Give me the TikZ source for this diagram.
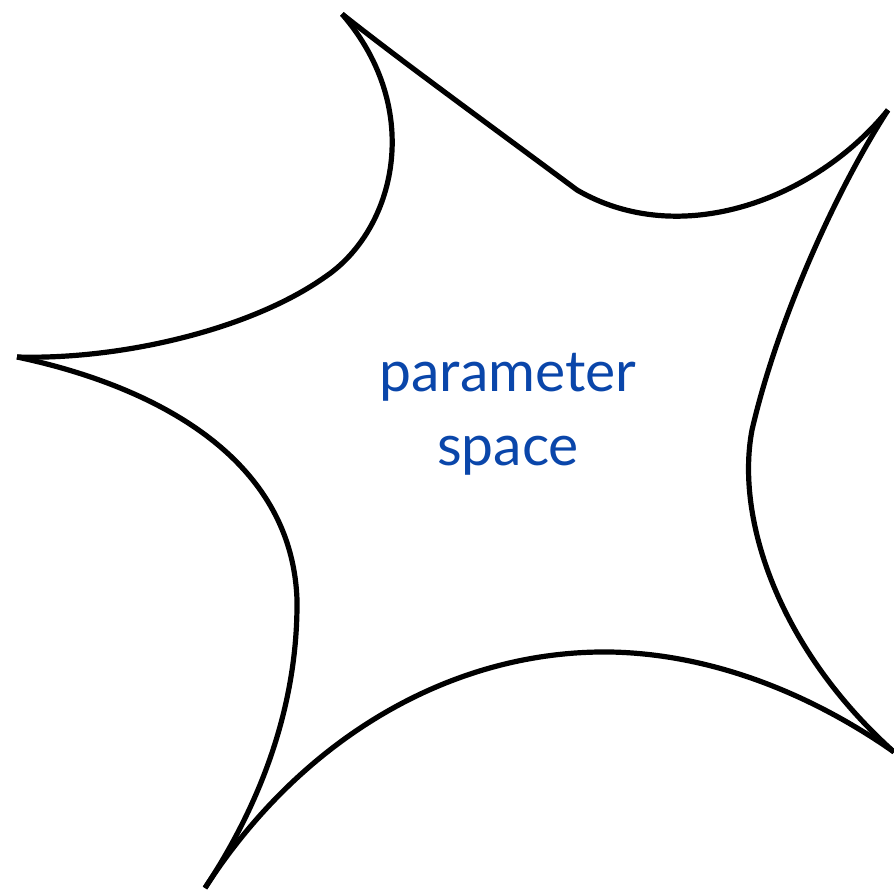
\documentclass[tikz,border=0pt]{standalone}
\usepackage{fontspec}
\setmainfont{Lato}
\begin{document}
\begin{tikzpicture}[x=.5pt,y=-.5pt,
  blobline/.style={draw=black,line width=2.6pt,line cap=butt,line join=round,fill=none},
  spacelabel/.style={inner sep=0pt,outer sep=0pt,anchor=base,text={rgb,255:red,10;green,70;blue,170},font=\fontsize{28.5}{38}\selectfont}]
\path[use as bounding box] (0,0) rectangle (894,892);
\path[fill=white,draw=none] (0,0) rectangle (894,892);
% five cusps of the region
\draw[blobline] (342,14) .. controls (425,110) and (395,230) .. (325,277) .. controls (250,330) and (120,360) .. (17,357);
\draw[blobline] (17,357) .. controls (150,385) and (292,455) .. (297,600) .. controls (298,720) and (250,820) .. (205,888);
\draw[blobline] (205,888) .. controls (300,740) and (450,650) .. (610,652) .. controls (720,654) and (820,700) .. (894,752);
\draw[blobline] (894,752) .. controls (780,650) and (735,520) .. (752,430) .. controls (775,330) and (830,200) .. (888,110);
\draw[blobline] (888,110) .. controls (815,200) and (680,250) .. (577,190) .. controls (480,118) and (400,60) .. (342,14);
\node[spacelabel] (plabel) at (508,392) {parameter};
\node[spacelabel] (slabel) at (508,466) {space};
\end{tikzpicture}
\end{document}
